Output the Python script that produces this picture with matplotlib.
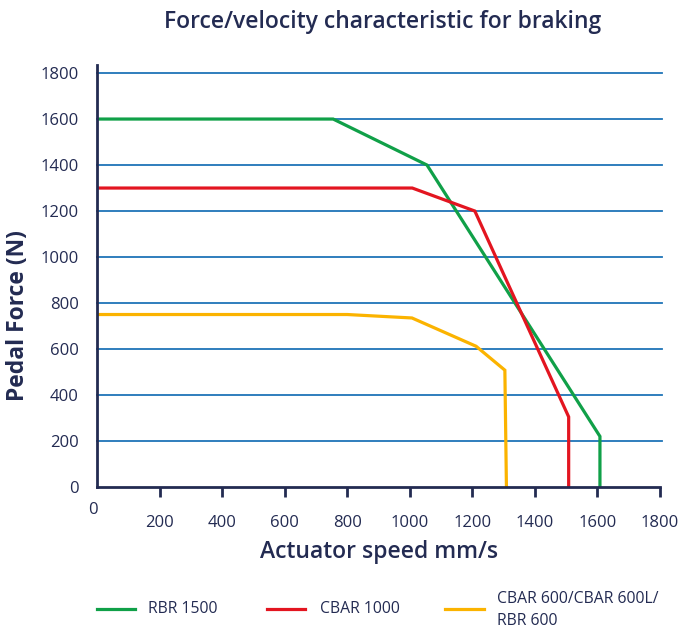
import matplotlib
matplotlib.use("Agg")
import matplotlib.pyplot as plt
from matplotlib.lines import Line2D

# ---- data ----
rbr1500_x = [0, 755, 1055, 1608, 1608]
rbr1500_y = [1600, 1600, 1400, 220, 0]
cbar1000_x = [0, 1008, 1208, 1508, 1508]
cbar1000_y = [1300, 1300, 1200, 305, 0]
cbar600_x = [0, 800, 1007, 1212, 1304, 1309]
cbar600_y = [750, 750, 735, 612, 508, 0]

series_labels = ["RBR 1500", "CBAR 1000", "CBAR 600/CBAR 600L/\nRBR 600"]
series_colors = ["#10a048", "#e31520", "#fbb300"]

x_ticks = [200, 400, 600, 800, 1000, 1200, 1400, 1600, 1800]
y_ticks = [0, 200, 400, 600, 800, 1000, 1200, 1400, 1600, 1800]
grid_levels = [200, 400, 600, 800, 1000, 1200, 1400, 1600, 1800]

title = "Force/velocity characteristic for braking"
xlabel = "Actuator speed mm/s"
ylabel = "Pedal Force (N)"

navy = "#232b52"
grid_color = "#1f74b8"
FONT = ["Open Sans", "DejaVu Sans"]
plt.rcParams["font.family"] = FONT

W, H = 681, 628
fig = plt.figure(figsize=(W / 100, H / 100), dpi=100)
left, right, bottom, top = 97 / W, 660 / W, 1 - 487 / H, 1 - 65 / H
ax = fig.add_axes([left, bottom, right - left, top - bottom])
ax.set_xlim(0, 1800)
ax.set_ylim(0, 1835)

for lvl in grid_levels:
    ax.plot([0, 1806], [lvl, lvl], color=grid_color, lw=1.3, clip_on=False, zorder=1)

for xs, ys, c in zip([rbr1500_x, cbar1000_x, cbar600_x],
                     [rbr1500_y, cbar1000_y, cbar600_y], series_colors):
    ax.plot(xs, ys, color=c, lw=2.3, zorder=3, solid_joinstyle="miter")

for s in ["top", "right"]:
    ax.spines[s].set_visible(False)
for s in ["left", "bottom"]:
    ax.spines[s].set_color(navy)
    ax.spines[s].set_linewidth(2.0)
    ax.spines[s].set_zorder(4)

ax.set_xticks(x_ticks)
ax.set_xticklabels([str(v) for v in x_ticks])
ax.tick_params(axis="x", length=7, width=2, color=navy, labelcolor=navy,
               labelsize=12, pad=13)
ax.set_yticks(y_ticks)
ax.set_yticklabels([str(v) for v in y_ticks])
ax.tick_params(axis="y", length=0, labelcolor=navy, labelsize=12, pad=13)
ax.text(-12, -100, "0", color=navy, fontsize=12, ha="center", va="center",
        transform=ax.transData, clip_on=False)

fig.text(383 / W, 1 - 22 / H, title, ha="center", va="center", fontsize=16.5,
         color=navy, fontweight="semibold")
fig.text(379 / W, 1 - 552 / H, xlabel, ha="center", va="center", fontsize=16.5,
         color=navy, fontweight="semibold")
fig.text(18 / W, 1 - 316 / H, ylabel, ha="center", va="center", fontsize=16.5,
         color=navy, fontweight="bold", rotation=90)

# legend
leg = [(97, 135, 148), (267, 305, 320), (445, 484, 497)]
for (x0, x1, xt), lab, c in zip(leg, series_labels, series_colors):
    yl = 1 - 609 / H
    fig.add_artist(Line2D([x0 / W, x1 / W], [yl, yl], color=c, lw=2.3,
                          transform=fig.transFigure))
    if "\n" in lab:
        fig.text(xt / W, 1 - 610 / H, lab, ha="left", va="center", fontsize=11.3,
                 color=navy, linespacing=1.55)
    else:
        fig.text(xt / W, yl, lab, ha="left", va="center", fontsize=11.3, color=navy)

fig.savefig("out.png", dpi=100)
